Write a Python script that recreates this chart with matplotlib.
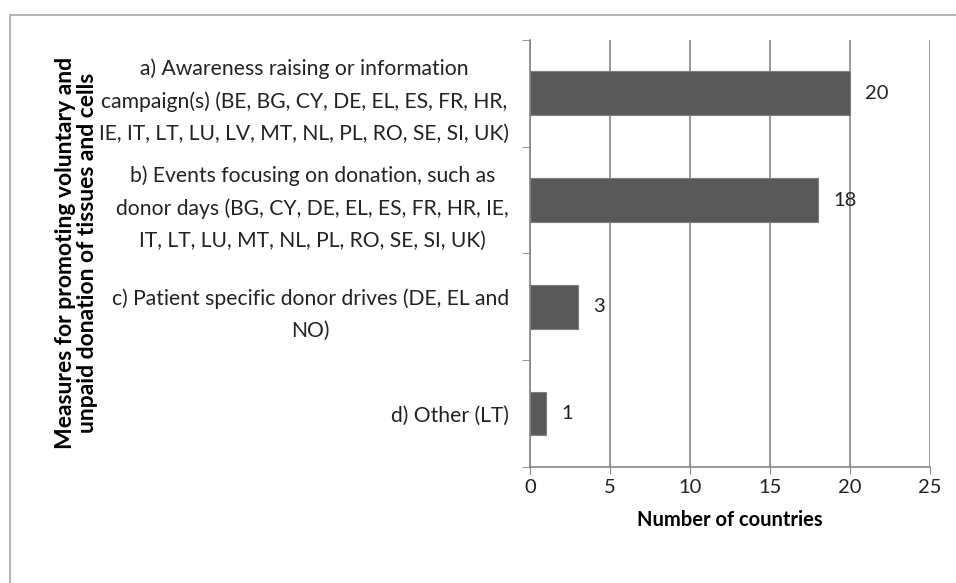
import matplotlib.pyplot as plt
import numpy as np
from matplotlib.patches import Rectangle

plt.rcParams['font.family'] = ['Lato', 'DejaVu Sans']

categories = [
    "a) Awareness raising or information\ncampaign(s) (BE, BG, CY, DE, EL, ES, FR, HR,\nIE, IT, LT, LU, LV, MT, NL, PL, RO, SE, SI, UK)",
    "b) Events focusing on donation, such as\ndonor days (BG, CY, DE, EL, ES, FR, HR, IE,\nIT, LT, LU, MT, NL, PL, RO, SE, SI, UK)",
    "c) Patient specific donor drives (DE, EL and\nNO)",
    "d) Other (LT)",
]
counts = [20, 18, 3, 1]
xticks = [0, 5, 10, 15, 20, 25]

fig = plt.figure(figsize=(9.56, 5.83), dpi=100)
ax = fig.add_axes([0.5544, 0.199, 0.4184, 0.7324])

# outer frame like the source image
fig.patches.append(Rectangle((10/956, -0.1), 1.2, 1 - 15/583 + 0.1, transform=fig.transFigure,
                             fill=False, edgecolor='#a6a6a6', linewidth=1.2))

y = np.arange(len(categories))
ax.barh(y, counts, height=0.41, color='#595959', edgecolor='#7f7f7f', linewidth=0.8, zorder=3)
for yi, c in zip(y, counts):
    ax.text(c + 0.95, yi, str(c), va='center', ha='left', fontsize=14.5, color='#222222')

ax.set_ylim(len(categories) - 0.5, -0.5)
ax.set_xlim(0, 25)
ax.set_xticks(xticks)
ax.tick_params(axis='x', length=5, color='#868686', labelsize=14.5, pad=4, labelcolor='#222222')
ax.set_yticks(y)
ax.set_yticklabels(categories, fontsize=15.2, color='#222222', linespacing=1.75,
                   ha='right', multialignment='center')
ax.tick_params(axis='y', length=0, pad=15)
ax.set_yticks(np.arange(len(categories) + 1) - 0.5, minor=True)
ax.tick_params(axis='y', which='minor', length=6, color='#868686')

ax.grid(axis='x', color='#868686', linewidth=1.2, zorder=0)
for s in ['top', 'right']:
    ax.spines[s].set_visible(False)
ax.spines['left'].set_color('#868686')
ax.spines['bottom'].set_color('#868686')
ax.spines['left'].set_linewidth(1.2)
ax.spines['bottom'].set_linewidth(1.2)

ax.set_xlabel("Number of countries", fontsize=14.5, fontweight='bold', labelpad=10)
fig.text(0.08, 0.566, "Measures for promoting voluntary and\nunpaid donation of tissues and cells",
         rotation=90, ha='center', va='center', fontsize=16.5, fontweight='bold',
         linespacing=1.08)

fig.savefig("out.png", dpi=100)
